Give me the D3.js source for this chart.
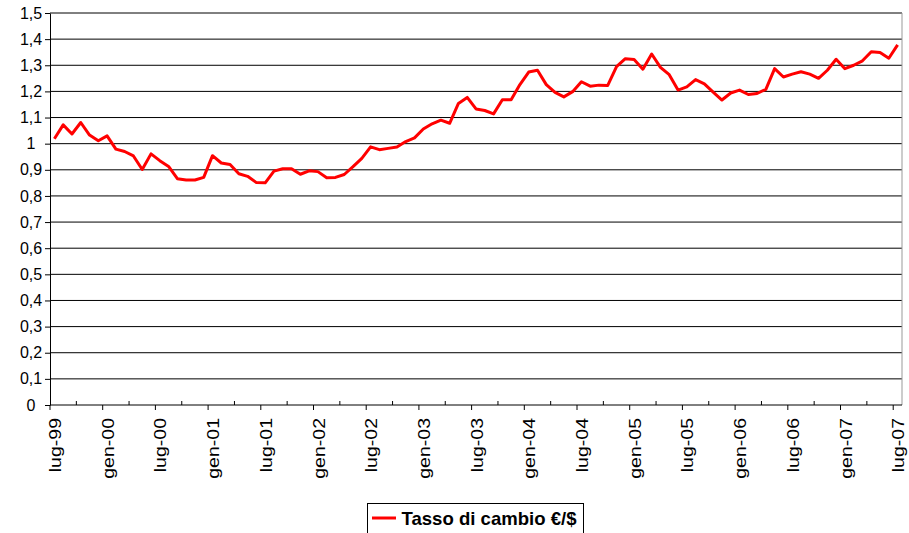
<!DOCTYPE html>
<html>
<head>
<meta charset="utf-8">
<script src="https://cdn.jsdelivr.net/npm/d3@7"></script>
<style>
  body { margin: 0; background: #fff; }
  svg { display: block; font-family: "Liberation Sans", Arial, sans-serif; }
</style>
</head>
<body>
<svg id="chart" width="909" height="533"></svg>
<script>
// monthly categories, lug-99 .. lug-07
var monthNames = ["gen", "feb", "mar", "apr", "mag", "giu", "lug", "ago", "set", "ott", "nov", "dic"];
var categories = [];
for (var n = 0; n < 97; n++) {
    var m = (6 + n) % 12;
    var yr = (1999 + Math.floor((6 + n) / 12)) % 100;
    categories.push(monthNames[m] + "-" + (yr < 10 ? "0" + yr : yr));
}

// tick labels on the x axis (every six months)
var xTickLabels = ["lug-99", "gen-00", "lug-00", "gen-01", "lug-01", "gen-02", "lug-02", "gen-03",
    "lug-03", "gen-04", "lug-04", "gen-05", "lug-05", "gen-06", "lug-06", "gen-07", "lug-07"];

// y ticks
var yTicks = [0, 0.1, 0.2, 0.3, 0.4, 0.5, 0.6, 0.7, 0.8, 0.9, 1, 1.1, 1.2, 1.3, 1.4, 1.5];

// euro / dollar exchange rate
var rates = [
    1.019, 1.072, 1.037, 1.081, 1.033, 1.011, 1.030, 0.979, 0.970, 0.953, 0.901, 0.961,
    0.935, 0.913, 0.866, 0.861, 0.861, 0.871, 0.954, 0.926, 0.920, 0.885, 0.875, 0.851,
    0.850, 0.895, 0.904, 0.904, 0.883, 0.896, 0.893, 0.870, 0.871, 0.882, 0.912, 0.944,
    0.988, 0.977, 0.982, 0.987, 1.008, 1.022, 1.056, 1.076, 1.090, 1.078, 1.154, 1.177,
    1.133, 1.127, 1.114, 1.168, 1.168, 1.226, 1.274, 1.281, 1.226, 1.196, 1.179, 1.199,
    1.237, 1.220, 1.224, 1.223, 1.295, 1.325, 1.322, 1.285, 1.343, 1.292, 1.264, 1.205,
    1.217, 1.245, 1.229, 1.197, 1.167, 1.194, 1.205, 1.188, 1.192, 1.208, 1.287, 1.255,
    1.266, 1.275, 1.266, 1.250, 1.281, 1.323, 1.287, 1.300, 1.317, 1.352, 1.349, 1.327,
    1.378
];

var seriesName = "Tasso di cambio €/$";

var svg = d3.select("#chart");

// plot area
var plotLeft = 50, plotRight = 902, plotTop = 13, plotBottom = 405;

var x = d3.scaleBand().domain(categories).range([plotLeft, plotRight]).padding(0);
var y = d3.scaleLinear().domain([0, 1.5]).range([plotBottom, plotTop]);

// italian number format
var it = d3.formatLocale({decimal: ",", thousands: ".", grouping: [3], currency: ["€", ""]});
var fmt = it.format(".1~f");

// gridlines
svg.append("g")
    .selectAll("line")
    .data(yTicks.filter(function(d) { return d > 0; }))
    .enter().append("line")
        .attr("x1", plotLeft)
        .attr("x2", plotRight)
        .attr("y1", function(d) { return y(d); })
        .attr("y2", function(d) { return y(d); })
        .attr("stroke", "#000")
        .attr("stroke-width", 1);

// right border of the plot
svg.append("line")
    .attr("x1", plotRight).attr("x2", plotRight)
    .attr("y1", plotTop).attr("y2", plotBottom)
    .attr("stroke", "#999")
    .attr("stroke-width", 1);

// y axis
var yAxis = svg.append("g")
    .attr("transform", "translate(" + plotLeft + ",0)")
    .call(d3.axisLeft(y).tickValues(yTicks).tickFormat(fmt).tickSize(5).tickSizeOuter(0));
yAxis.select(".domain").attr("stroke", "#000");
yAxis.selectAll(".tick line").attr("stroke", "#000");
yAxis.selectAll(".tick text")
    .attr("x", -19)
    .attr("text-anchor", "middle")
    .attr("fill", "#000")
    .style("font-size", "16px")
    .style("font-family", "Liberation Sans, Arial, sans-serif");

// x axis line
svg.append("line")
    .attr("x1", plotLeft).attr("x2", plotRight)
    .attr("y1", plotBottom).attr("y2", plotBottom)
    .attr("stroke", "#000");

// x ticks on category boundaries, every three months
var tickIdx = d3.range(0, 97, 3);
svg.append("g")
    .selectAll("line")
    .data(tickIdx)
    .enter().append("line")
        .attr("x1", function(d) { return x(categories[d]); })
        .attr("x2", function(d) { return x(categories[d]); })
        .attr("y1", plotBottom)
        .attr("y2", function(d) { return d % 6 == 0 ? plotBottom + 5 : plotBottom - 4; })
        .attr("stroke", "#000");

// x labels, rotated
svg.append("g")
    .selectAll("text")
    .data(xTickLabels)
    .enter().append("text")
        .attr("transform", function(d) {
            var cx = x(d) + x.bandwidth() / 2 + 1;
            return "translate(" + cx + "," + (plotBottom + 13) + ") rotate(-90) scale(1.22,1)";
        })
        .attr("dy", "0.35em")
        .attr("text-anchor", "end")
        .style("font-size", "16px")
        .text(function(d) { return d; });

// the series
var line = d3.line()
    .x(function(d, i) { return x(categories[i]) + x.bandwidth() / 2; })
    .y(function(d) { return y(d); });

svg.append("path")
    .datum(rates)
    .attr("d", line)
    .attr("fill", "none")
    .attr("stroke", "#ff0000")
    .attr("stroke-width", 3)
    .attr("stroke-linejoin", "round");

// legend
var legend = svg.append("g");
legend.append("rect")
    .attr("x", 367.5).attr("y", 503.5)
    .attr("width", 216).attr("height", 30)
    .attr("fill", "#fff")
    .attr("stroke", "#000");
legend.append("line")
    .attr("x1", 372).attr("x2", 396)
    .attr("y1", 518).attr("y2", 518)
    .attr("stroke", "#ff0000")
    .attr("stroke-width", 3);
legend.append("text")
    .attr("x", 401.5)
    .attr("y", 525)
    .attr("textLength", 175)
    .attr("lengthAdjust", "spacingAndGlyphs")
    .style("font-size", "19px")
    .style("font-weight", "bold")
    .text(seriesName);
</script>
</body>
</html>
